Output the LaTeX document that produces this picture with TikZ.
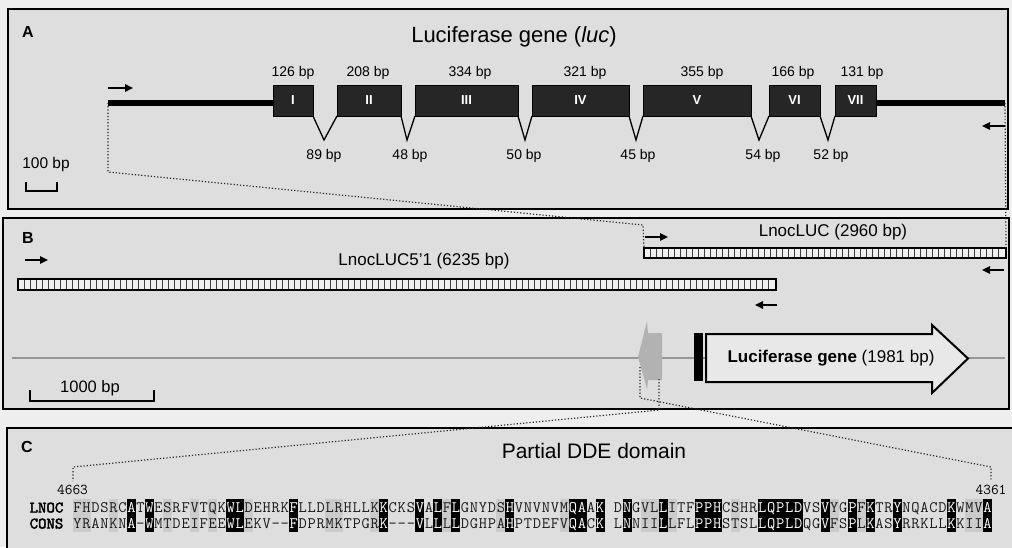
\documentclass[tikz,border=0pt]{standalone}
\usepackage{fontspec}
\setmainfont{Liberation Sans}
\newfontfamily\monobold{lmmono10-regular.otf}[FakeBold=2.5]
\usetikzlibrary{arrows.meta}
\definecolor{outbg}{RGB}{238,238,238}
\definecolor{panelbg}{RGB}{222,222,222}
\definecolor{exonfill}{RGB}{38,38,38}
\definecolor{genline}{RGB}{150,150,150}
\definecolor{tefill}{RGB}{178,178,178}
\definecolor{simgray}{RGB}{203,203,203}
\definecolor{lucfill}{RGB}{232,232,232}
\colorlet{k}{black!90}
\colorlet{w}{white}
\begin{document}
\begin{tikzpicture}[x=1pt,y=-1pt,
  panel/.style={draw=black,line width=1.8pt,fill=panelbg},
  exon/.style={draw=black,line width=0.8pt,fill=exonfill,minimum height=31pt,inner sep=0pt,outer sep=0pt,text=white,font=\bfseries\fontsize{13}{13}\selectfont},
  intron/.style={draw=black,line width=1.3pt,line join=miter},
  bplab/.style={font=\fontsize{14}{14}\selectfont,inner sep=0pt},
  flab/.style={font=\fontsize{17}{17}\selectfont,inner sep=0pt},
  title/.style={font=\fontsize{22}{22}\selectfont,inner sep=0pt},
  plabel/.style={font=\bfseries\fontsize{16}{16}\selectfont,inner sep=0pt},
  primer/.style={line width=1.6pt,-{Triangle[length=8pt,width=7.5pt]}},
  zoomline/.style={dotted,line width=1.2pt,black!85},
  scalebar/.style={line width=1.2pt},
  hatchbox/.style={draw=black,line width=1.2pt,fill=white!55!panelbg,inner sep=0pt,outer sep=0pt},
  stripe/.style={line width=0.6pt,black!75},
  seq/.style={font=\ttfamily\fontsize{16}{16}\selectfont,inner sep=0pt,anchor=base},
  rowlab/.style={font=\monobold\fontsize{16}{16}\selectfont,inner sep=0pt,anchor=base},
  numlab/.style={font=\ttfamily\fontsize{15}{15}\selectfont,inner sep=0pt},
  lucarrow/.style={draw=black,line width=2pt,fill=lucfill,line join=miter}
]
\fill[outbg] (0,0) rectangle (1012,547);
\useasboundingbox (0,0) rectangle (1012,547);

% panels
\draw[panel] (8,9) rectangle (1008,209);
\draw[panel] (3,218) rectangle (1009,409);
\draw[panel] (7,428) rectangle (1030,570);

% ---------------- Panel A ----------------
\node[plabel] (labA) at (28,32) {A};
\node[title] (titleA) at (514,37) {Luciferase gene (\textit{luc})};

\coordinate (lineL) at (108,103);
\coordinate (lineR) at (1005,103);

\node[exon,minimum width=40pt]  (e1) at (293,100.5) {I};
\node[exon,minimum width=64pt]  (e2) at (369,100.5) {II};
\node[exon,minimum width=103pt] (e3) at (466.5,100.5) {III};
\node[exon,minimum width=97pt]  (e4) at (580.5,100.5) {IV};
\node[exon,minimum width=108pt] (e5) at (697,100.5) {V};
\node[exon,minimum width=51pt]  (e6) at (794.5,100.5) {VI};
\node[exon,minimum width=41pt]  (e7) at (855.5,100.5) {VII};

\draw[line width=6pt] (lineL) -- (lineL -| e1.west);
\draw[line width=6pt] (lineR -| e7.east) -- (lineR);

\coordinate (i1) at (324,140);
\coordinate (i2) at (407,140);
\coordinate (i3) at (525,140);
\coordinate (i4) at (636,140);
\coordinate (i5) at (759,140);
\coordinate (i6) at (828,140);
\draw[intron] (e1.south east) -- (i1) -- (e2.south west);
\draw[intron] (e2.south east) -- (i2) -- (e3.south west);
\draw[intron] (e3.south east) -- (i3) -- (e4.south west);
\draw[intron] (e4.south east) -- (i4) -- (e5.south west);
\draw[intron] (e5.south east) -- (i5) -- (e6.south west);
\draw[intron] (e6.south east) -- (i6) -- (e7.south west);

\node[bplab] (s1) at (293,73) {126 bp};
\node[bplab] (s2) at (368,73) {208 bp};
\node[bplab] (s3) at (470,73) {334 bp};
\node[bplab] (s4) at (585,73) {321 bp};
\node[bplab] (s5) at (702,73) {355 bp};
\node[bplab] (s6) at (793,73) {166 bp};
\node[bplab] (s7) at (862,73) {131 bp};

\node[bplab] (n1) at (324,156) {89 bp};
\node[bplab] (n2) at (410,156) {48 bp};
\node[bplab] (n3) at (524,156) {50 bp};
\node[bplab] (n4) at (638,156) {45 bp};
\node[bplab] (n5) at (763,156) {54 bp};
\node[bplab] (n6) at (831,156) {52 bp};

\coordinate (pa1) at (108,88);  \coordinate (pa2) at (133,88);
\coordinate (pa3) at (1005,126); \coordinate (pa4) at (982,126);
\draw[primer] (pa1) -- (pa2);
\draw[primer] (pa3) -- (pa4);

\node[font=\fontsize{15.5}{15.5}\selectfont,inner sep=0pt] (scA) at (46,164) {100 bp};
\draw[scalebar] (26,182) -- (26,191) -- (57,191) -- (57,182);

% ---------------- Panel B ----------------
\node[plabel] (labB) at (28,238) {B};
\draw[genline,line width=1.3pt] (12,358) -- (1005,358);

\node[hatchbox,minimum width=758pt,minimum height=11pt] (frag5) at (397,284.5) {};
\foreach \x in {24,30,...,772} \draw[stripe] (\x,279) -- (\x,290);
\draw[line width=1.2pt] (frag5.north west) rectangle (frag5.south east);

\node[hatchbox,minimum width=362pt,minimum height=10pt] (fragL) at (825,253) {};
\foreach \x in {650,656,...,1002} \draw[stripe] (\x,248) -- (\x,258);
\draw[line width=1.2pt] (fragL.north west) rectangle (fragL.south east);

\node[flab] (t5) at (424,261) {LnocLUC5'1 (6235 bp)};
\node[flab] (tL) at (833,232) {LnocLUC (2960 bp)};

\coordinate (pb1) at (25,260);  \coordinate (pb2) at (48,260);
\coordinate (pb3) at (645,237); \coordinate (pb4) at (668,237);
\coordinate (pb5) at (1004,270); \coordinate (pb6) at (982,270);
\coordinate (pb7) at (777,305); \coordinate (pb8) at (755,305);
\draw[primer] (pb1) -- (pb2);
\draw[primer] (pb3) -- (pb4);
\draw[primer] (pb5) -- (pb6);
\draw[primer] (pb7) -- (pb8);

% transposable element fragment
\fill[tefill] (662,333) -- (648,333) -- (647,321) -- (638,357) -- (647,389) -- (648,380) -- (662,380) -- cycle;
\coordinate (te1) at (640,367);
\coordinate (te2) at (659,379);

\node[fill=black,minimum width=9pt,minimum height=48pt,inner sep=0pt] (prom) at (698,357) {};
\draw[lucarrow] (706,334) -- (932,334) -- (932,325) -- (968,358.5) -- (932,393) -- (932,382) -- (706,382) -- cycle;
\node[flab] (luct) at (831,358) {\textbf{Luciferase gene} (1981 bp)};

\node[font=\fontsize{16.5}{16.5}\selectfont,inner sep=0pt] (scB) at (90,388) {1000 bp};
\draw[scalebar] (30,390) -- (30,401) -- (154,401) -- (154,390);

% zoom lines A -> B
\draw[zoomline] (lineL) -- (108,172) -- (643,225) -- (fragL.north west);
\draw[zoomline] (lineR) -- (fragL.north east);

% ---------------- Panel C ----------------
\node[plabel] (labC) at (27,447) {C};
\node[font=\fontsize{21}{21}\selectfont,inner sep=0pt] (titleC) at (594,451) {Partial DDE domain};
\node[numlab] (n4663) at (72.5,489.5) {4663};
\node[numlab] (n4361) at (991,489.5) {4361};

% zoom lines B -> C
\draw[zoomline] (te2) -- (659,410) -- (73,467) -- (73,481);
\draw[zoomline] (te1) -- (640,398) -- (991,467) -- (991,481);

\node[rowlab] (rowL) at (46.5,512.5) {LNOC};
\node[rowlab] (rowC) at (46.5,528.5) {CONS};

% similarity shading
\foreach \i in {1,2,5,11,14,16,20,29,30,34,42,48,55,64,65,67,74,85,88,100,101}
  \fill[simgray] ({73+(\i-1)*9.01},499) rectangle ({73+\i*9.01},532);
% identity shading
\foreach \i in {7,9,18,19,25,35,39,41,43,49,56,57,59,62,66,70,71,72,77,78,79,80,81,84,87,89,92,98,102}
  \fill[black] ({73+(\i-1)*9.01},499) rectangle ({73+\i*9.01},532);

% LNOC row
\foreach \c/\t [count=\i] in {F/k,H/k,D/k,S/k,R/k,C/k,A/w,T/k,W/w,E/k,
  S/k,R/k,F/k,V/k,T/k,Q/k,K/k,W/w,L/w,D/k,
  E/k,H/k,R/k,K/k,F/w,L/k,L/k,D/k,L/k,R/k,
  H/k,L/k,L/k,K/k,K/w,C/k,K/k,S/k,V/w,A/k,
  L/w,F/k,L/w,G/k,N/k,Y/k,D/k,S/k,H/w,V/k,
  N/k,V/k,N/k,V/k,M/k,Q/w,A/w,A/k,K/w}
  \node[seq,text=\t] (L\i) at ({73+(\i-0.5)*9.01},512.5) {\c};
\foreach \c/\t [count=\i from 61] in {D/k,N/w,G/k,V/k,L/k,L/w,I/k,T/k,F/k,P/w,
  P/w,H/w,C/k,S/k,H/k,R/k,L/w,Q/w,P/w,L/w,
  D/w,V/k,S/k,V/w,Y/k,G/k,P/w,F/k,K/w,T/k,
  R/k,Y/w,N/k,Q/k,A/k,C/k,D/k,K/w,W/k,M/k,
  V/k,A/w}
  \node[seq,text=\t] (L\i) at ({73+(\i-0.5)*9.01},512.5) {\c};

% CONS row
\foreach \c/\t [count=\i] in {Y/k,R/k,A/k,N/k,K/k,N/k,A/w,-/k,W/w,M/k,
  T/k,D/k,E/k,I/k,F/k,E/k,E/k,W/w,L/w,E/k,
  K/k,V/k,-/k,-/k,F/w,D/k,P/k,R/k,M/k,K/k,
  T/k,P/k,G/k,R/k,K/w,-/k,-/k,-/k,V/w,L/k,
  L/w,L/k,L/w,D/k,G/k,H/k,P/k,A/k,H/w,P/k,
  T/k,D/k,E/k,F/k,V/k,Q/w,A/w,C/k,K/w}
  \node[seq,text=\t] (C\i) at ({73+(\i-0.5)*9.01},528.5) {\c};
\foreach \c/\t [count=\i from 61] in {L/k,N/w,N/k,I/k,I/k,L/w,L/k,F/k,L/k,P/w,
  P/w,H/w,S/k,T/k,S/k,L/k,L/w,Q/w,P/w,L/w,
  D/w,Q/k,G/k,V/w,F/k,S/k,P/w,L/k,K/w,A/k,
  S/k,Y/w,R/k,R/k,K/k,L/k,L/k,K/w,K/k,I/k,
  I/k,A/w}
  \node[seq,text=\t] (C\i) at ({73+(\i-0.5)*9.01},528.5) {\c};
\end{tikzpicture}
\end{document}
